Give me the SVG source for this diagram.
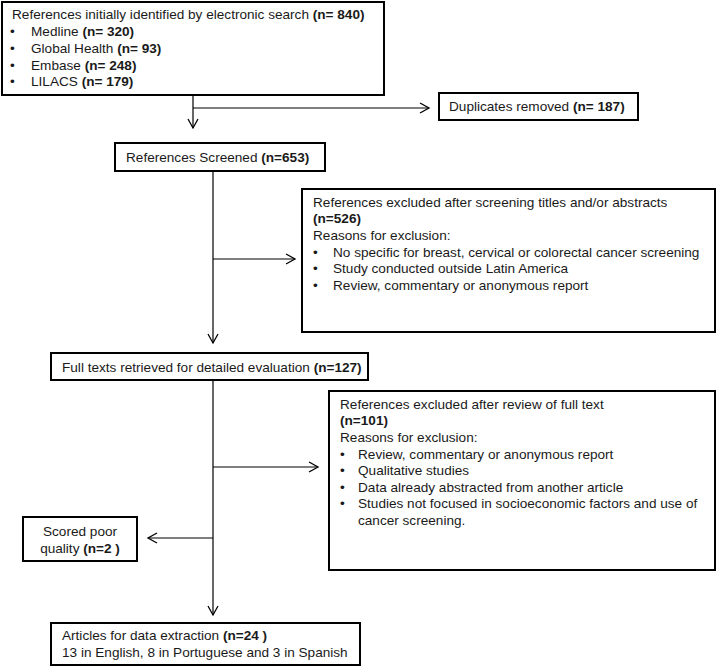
<svg xmlns="http://www.w3.org/2000/svg" width="717" height="668" viewBox="0 0 717 668">
<style>
.box{fill:#fff;stroke:#000;stroke-width:2}
.t{font-family:"Liberation Sans",Arial,sans-serif;font-size:13.6px;fill:#1a1a1a}
.b{font-weight:bold}
.c{fill:none;stroke:#000;stroke-width:1.2}
</style>
<defs>
<marker id="ah" markerWidth="12" markerHeight="12" refX="10" refY="6" orient="auto" markerUnits="userSpaceOnUse">
<path d="M1,1 L10,6 L1,11" fill="none" stroke="#000" stroke-width="1.3"/>
</marker>
</defs>
<rect width="717" height="668" fill="#fff"/>
<g id="connectors">
<line class="c" x1="193" y1="95" x2="193" y2="128" marker-end="url(#ah)"/>
<line class="c" x1="193" y1="108" x2="429" y2="108" marker-end="url(#ah)"/>
<line class="c" x1="213" y1="171" x2="213" y2="343" marker-end="url(#ah)"/>
<line class="c" x1="213" y1="259" x2="295" y2="259" marker-end="url(#ah)"/>
<line class="c" x1="213" y1="380" x2="213" y2="615" marker-end="url(#ah)"/>
<line class="c" x1="213" y1="467" x2="318" y2="467" marker-end="url(#ah)"/>
<line class="c" x1="213" y1="538" x2="148" y2="538" marker-end="url(#ah)"/>
</g>
<g id="n1">
<rect class="box" x="2" y="2" width="382" height="93"/>
<text class="t" x="12" y="19">References initially identified by electronic search <tspan class="b">(n= 840)</tspan></text>
<text class="t" x="10" y="36">•</text><text class="t" x="31" y="36">Medline <tspan class="b">(n= 320)</tspan></text>
<text class="t" x="10" y="53">•</text><text class="t" x="31" y="53">Global Health <tspan class="b">(n= 93)</tspan></text>
<text class="t" x="10" y="70">•</text><text class="t" x="31" y="70">Embase <tspan class="b">(n= 248)</tspan></text>
<text class="t" x="10" y="86">•</text><text class="t" x="31" y="86">LILACS <tspan class="b">(n= 179)</tspan></text>
</g>
<g id="n2">
<rect class="box" x="439" y="93" width="199" height="27"/>
<text class="t" x="449" y="111">Duplicates removed <tspan class="b">(n= 187)</tspan></text>
</g>
<g id="n3">
<rect class="box" x="115" y="143" width="210" height="28"/>
<text class="t" x="126" y="162">References Screened <tspan class="b">(n=653)</tspan></text>
</g>
<g id="n4">
<rect class="box" x="302" y="189" width="413" height="143"/>
<text class="t" x="313" y="207">References excluded after screening titles and/or abstracts</text>
<text class="t b" x="313" y="223">(n=526)</text>
<text class="t" x="313" y="240">Reasons for exclusion:</text>
<text class="t" x="313" y="257">•</text><text class="t" x="333" y="257">No specific for breast, cervical or colorectal cancer screening</text>
<text class="t" x="313" y="273">•</text><text class="t" x="333" y="273">Study conducted outside Latin America</text>
<text class="t" x="313" y="290">•</text><text class="t" x="333" y="290">Review, commentary or anonymous report</text>
</g>
<g id="n5">
<rect class="box" x="51" y="353" width="317" height="27"/>
<text class="t" x="62" y="372">Full texts retrieved for detailed evaluation <tspan class="b">(n=127)</tspan></text>
</g>
<g id="n6">
<rect class="box" x="329" y="391" width="386" height="179"/>
<text class="t" x="340" y="409">References excluded after review of full text</text>
<text class="t b" x="340" y="425">(n=101)</text>
<text class="t" x="340" y="442">Reasons for exclusion:</text>
<text class="t" x="340" y="459">•</text><text class="t" x="358" y="459">Review, commentary or anonymous report</text>
<text class="t" x="340" y="475">•</text><text class="t" x="358" y="475">Qualitative studies</text>
<text class="t" x="340" y="492">•</text><text class="t" x="358" y="492">Data already abstracted from another article</text>
<text class="t" x="340" y="508">•</text><text class="t" x="358" y="508">Studies not focused in socioeconomic factors and use of</text>
<text class="t" x="358" y="525">cancer screening.</text>
</g>
<g id="n7">
<rect class="box" x="23" y="517" width="114" height="44"/>
<text class="t" x="80" y="536" text-anchor="middle">Scored poor</text>
<text class="t" x="80" y="553" text-anchor="middle">quality <tspan class="b">(n=2 )</tspan></text>
</g>
<g id="n8">
<rect class="box" x="51" y="623" width="309" height="42"/>
<text class="t" x="62" y="640">Articles for data extraction <tspan class="b">(n=24 )</tspan></text>
<text class="t" x="62" y="657">13 in English, 8 in Portuguese and 3 in Spanish</text>
</g>
</svg>
